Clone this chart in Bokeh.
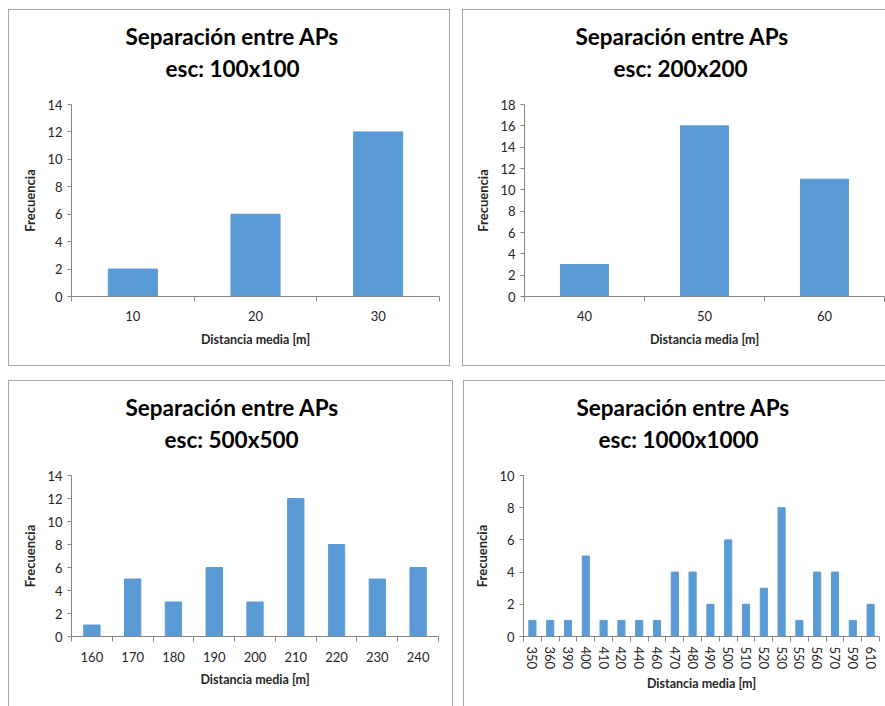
import numpy as np
from bokeh.plotting import figure
from bokeh.models import Range1d, FixedTicker, Title
from bokeh.layouts import row, column
from bokeh.embed import file_html
from bokeh.resources import INLINE

title_main = "Separación entre APs"
x_label = "Distancia media [m]"
y_label = "Frecuencia"

sub_100 = "esc: 100x100"
dist_100 = ["10", "20", "30"]
freq_100 = [2, 6, 12]
ymax_100 = 14

sub_200 = "esc: 200x200"
dist_200 = ["40", "50", "60"]
freq_200 = [3, 16, 11]
ymax_200 = 18

sub_500 = "esc: 500x500"
dist_500 = ["160", "170", "180", "190", "200", "210", "220", "230", "240"]
freq_500 = [1, 5, 3, 6, 3, 12, 8, 5, 6]
ymax_500 = 14

sub_1000 = "esc: 1000x1000"
dist_1000 = ["350", "360", "390", "400", "410", "420", "440", "460", "470", "480",
             "490", "500", "510", "520", "530", "550", "560", "570", "590", "610"]
freq_1000 = [1, 1, 1, 5, 1, 1, 1, 1, 4, 4, 2, 6, 2, 3, 8, 1, 4, 4, 1, 2]
ymax_1000 = 10

BAR = "#5B9BD5"
AXIS = "#868686"
TXT = "#262626"
FONT = "Lato"
TOP = 94
BORDER = "1.5px solid #a6a6a6"


def panel(cats, vals, sub, ymax, w, h, left, right, bottom, off_main, off_sub,
          hide_sides=(), vertical=False, lab_standoff=8, title_standoff=8):
    n = len(cats)
    centers = [float(i) + 0.5 for i in range(n)]
    bounds = [float(i) for i in range(n + 1)]
    p = figure(width=w, height=h, x_range=Range1d(0, n), y_range=Range1d(0, ymax),
               output_backend="svg", toolbar_location=None, title=None,
               min_border_left=left, min_border_right=right, min_border_bottom=bottom,
               min_border_top=TOP)
    p.vbar(x=centers, top=vals, width=0.4, color=BAR, line_color=BAR)

    # blank spacer between the frame and the two-line title
    p.add_layout(Title(text=" ", text_font_size="1px", standoff=20), "above")
    p.add_layout(Title(text=sub, align="left", offset=off_sub, text_font=FONT,
                       text_font_size="22.5px", text_font_style="bold",
                       text_color="#000000", standoff=0), "above")
    p.add_layout(Title(text=title_main, align="left", offset=off_main, text_font=FONT,
                       text_font_size="22.5px", text_font_style="bold",
                       text_color="#000000", standoff=5), "above")

    p.xgrid.visible = False
    p.ygrid.visible = False
    p.outline_line_color = None
    p.border_fill_alpha = 0
    st = {"border": BORDER, "box-sizing": "border-box"}
    for s in hide_sides:
        st["border-" + s] = "none"
    p.styles = st

    xa = p.below[0]
    xa.ticker = FixedTicker(ticks=centers, minor_ticks=bounds)
    xa.major_label_overrides = {c: lab for c, lab in zip(centers, cats)}
    xa.major_tick_line_color = None
    xa.minor_tick_in = 0
    xa.minor_tick_out = 5
    xa.minor_tick_line_color = AXIS
    xa.axis_line_color = AXIS
    xa.major_label_text_font = FONT
    xa.major_label_text_font_size = "13px"
    xa.major_label_text_color = TXT
    xa.axis_label = x_label
    xa.axis_label_text_font = FONT
    xa.axis_label_text_font_size = "12.5px"
    xa.axis_label_text_font_style = "bold"
    xa.axis_label_text_color = TXT
    if vertical:
        xa.major_label_orientation = "vertical"
    xa.major_label_standoff = lab_standoff
    xa.axis_label_standoff = title_standoff

    ya = p.yaxis[0]
    ya.ticker = FixedTicker(ticks=list(range(0, ymax + 1, 2)))
    ya.major_tick_in = 0
    ya.major_tick_out = 4
    ya.major_tick_line_color = AXIS
    ya.minor_tick_line_color = None
    ya.axis_line_color = AXIS
    ya.major_label_text_font = FONT
    ya.major_label_text_font_size = "13px"
    ya.major_label_text_color = TXT
    ya.major_label_standoff = 5
    ya.axis_label = y_label
    ya.axis_label_text_font = FONT
    ya.axis_label_text_font_size = "13px"
    ya.axis_label_text_font_style = "bold"
    ya.axis_label_text_color = TXT
    ya.axis_label_standoff = 6
    return p


p1 = panel(dist_100, freq_100, sub_100, ymax_100, 442, 357, 62, 12, 71, 54, 94)
p2 = panel(dist_200, freq_200, sub_200, ymax_200, 423, 357, 61, 2, 70, 51, 89,
           hide_sides=("right",))
p3 = panel(dist_500, freq_500, sub_500, ymax_500, 445, 326, 62, 16, 66, 54, 93,
           hide_sides=("bottom",), lab_standoff=9, title_standoff=7)
p4 = panel(dist_1000, freq_1000, sub_1000, ymax_1000, 422, 326, 59, 7, 71, 53, 75,
           hide_sides=("right", "bottom"), vertical=True, lab_standoff=4, title_standoff=4)

layout = column(row(p1, p2, spacing=12), row(p3, p4, spacing=10), spacing=14,
                margin=(9, 0, 0, 8))

open("out.html", "w").write(file_html(layout, INLINE))
